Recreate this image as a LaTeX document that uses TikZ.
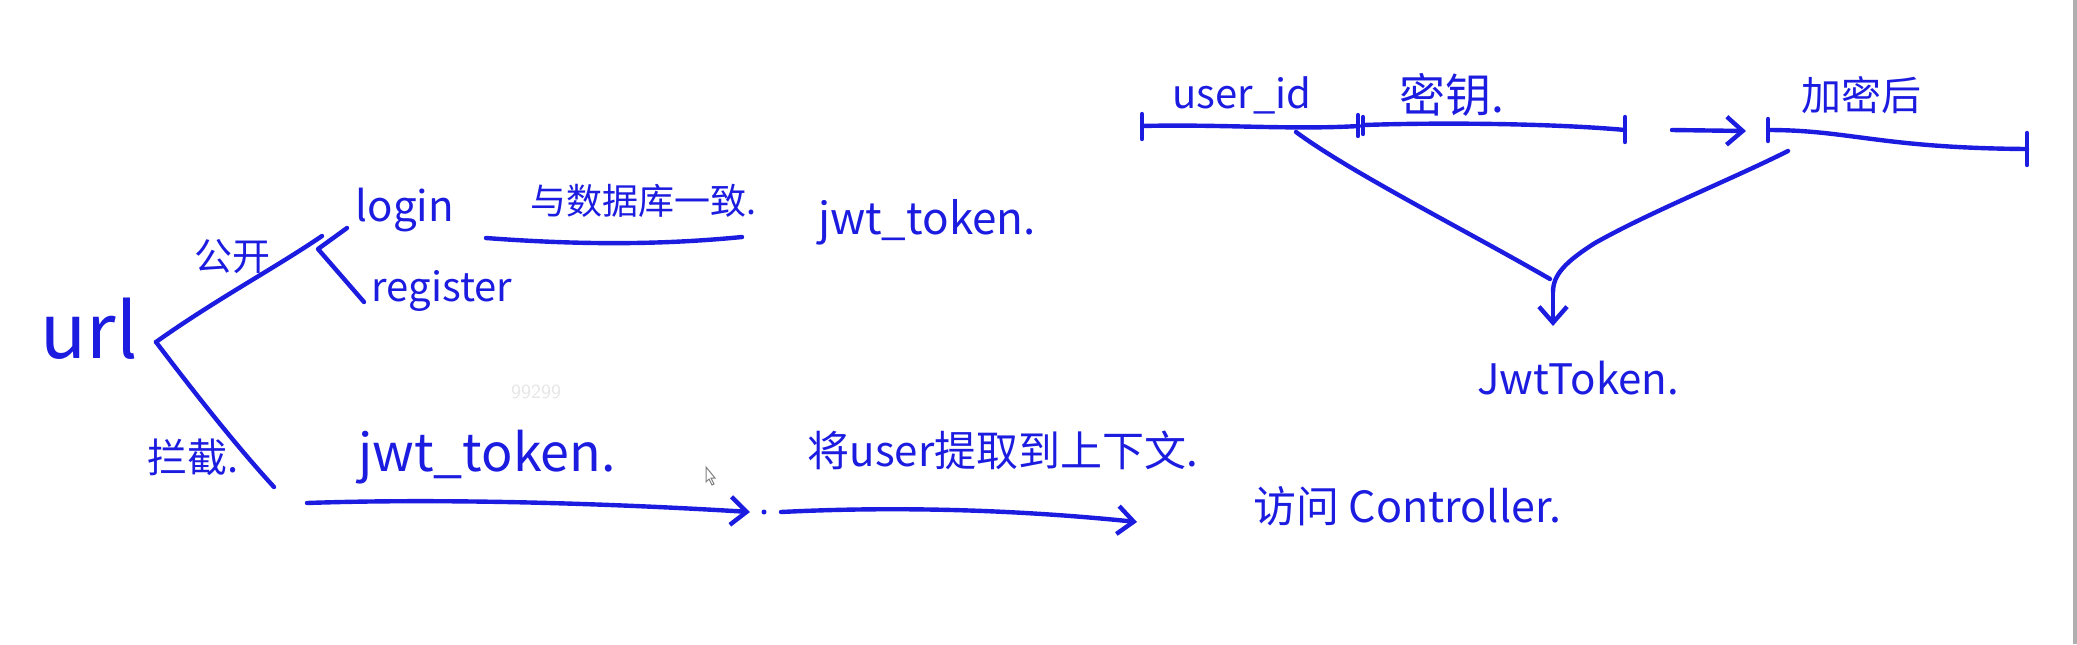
\documentclass[tikz,border=0pt]{standalone}
\usepackage{fontspec}
\newfontfamily\cjk{Noto Sans CJK SC}
\usetikzlibrary{arrows.meta}
\definecolor{ink}{RGB}{28,28,225}
\definecolor{wmark}{RGB}{230,230,230}
\definecolor{edge}{RGB}{175,175,175}
\begin{document}
\begin{tikzpicture}[x=0.5pt,y=-0.5pt,
  inkline/.style={draw=ink, line width=2.2pt, line cap=round, line join=round},
  handarrow/.style={-{Straight Barb[length=8pt,width=14pt,line width=2.2pt]}},
  lbl/.style={text=ink, font=\cjk\fontsize{#1}{#1}\selectfont, inner sep=0pt},
  dotmark/.style={fill=ink, circle, inner sep=0pt, minimum size=2.5pt}]
\useasboundingbox (0,0) rectangle (2077,644);
\fill[white] (0,0) rectangle (2077,644);
\fill[edge] (2073,0) rectangle (2077,644);

% ---- texts ----
\node[lbl=38] (url) at (89,329) {url};
\node[lbl=19] (gk) at (232,257) {公开};
\node[lbl=20] (lj) at (193,457) {拦截.};
\node[lbl=21] (login) at (405,210) {login};
\node[lbl=20] (reg) at (442,291) {register};
\node[lbl=18] (db) at (643,201) {与数据库一致.};
\node[lbl=22] (jwta) at (927,222) {jwt\_token.};
\node[lbl=26] (jwtb) at (487,457) {jwt\_token.};
\node[lbl=21] (ext) at (1003,450) {将user提取到上下文.};
\node[lbl=21.5] (ctrl) at (1407,506) {访问 Controller.};
\node[lbl=20] (uid) at (1242,95) {user\_id};
\node[lbl=23] (key) at (1452,95) {密钥.};
\node[lbl=20] (enc) at (1861,95) {加密后};
\node[lbl=21] (jt) at (1578,378) {JwtToken.};
\node[text=wmark, font=\sffamily\fontsize{10}{10}\selectfont, inner sep=0pt] (wm) at (536,392) {99299};

% ---- left tree ----
\coordinate (br) at (156,342);
\coordinate (up) at (322,236);
\coordinate (dn) at (274,487);
\draw[inkline] (br) .. controls (215,300) and (275,268) .. (up);
\draw[inkline] (br) .. controls (200,400) and (240,450) .. (dn);
\coordinate (bv) at (318,249);
\coordinate (bu) at (347,228);
\coordinate (bl) at (364,302);
\draw[inkline] (bu) -- (bv) -- (bl);

% underline
\coordinate (ula) at (486,238);
\coordinate (ulb) at (742,237);
\draw[inkline] (ula) .. controls (580,245) and (660,245) .. (ulb);

% lower arrows
\coordinate (a1s) at (307,503);
\coordinate (a1e) at (750,512);
\draw[inkline, handarrow] (a1s) .. controls (450,498) and (620,504) .. (a1e);
\node[dotmark] (d1) at (764,512) {};
\coordinate (a2s) at (781,512);
\coordinate (a2e) at (1137,522);
\draw[inkline, handarrow] (a2s) .. controls (900,506) and (1020,510) .. (a2e);

% cursor
\draw[draw=gray, fill=white, line width=0.5pt] (706,467) -- (706,482) -- (709,479) -- (712,485) -- (714,484) -- (711,478) -- (715,478) -- cycle;

% ---- right part ----
\coordinate (s1) at (1142,126);
\coordinate (s2) at (1359,126);
\coordinate (s2b) at (1364,125);
\coordinate (s3) at (1625,130);
\draw[inkline] (s1) .. controls (1220,124) and (1290,130) .. (s2);
\draw[inkline] (s2b) .. controls (1450,122) and (1560,124) .. (s3);
\draw[inkline] (1142,114) -- (1142,139);
\draw[inkline] (1358,115) -- (1358,136);
\draw[inkline] (1363,117) -- (1363,134);
\draw[inkline] (1625,117) -- (1625,142);

\coordinate (ar1) at (1672,130);
\coordinate (ar2) at (1746,131);
\draw[inkline, handarrow] (ar1) -- (ar2);

\coordinate (t1) at (1768,130);
\coordinate (t2) at (2027,149);
\draw[inkline] (t1) .. controls (1850,130) and (1880,148) .. (t2);
\draw[inkline] (1768,119) -- (1768,141);
\draw[inkline] (2027,133) -- (2027,165);

\coordinate (vl) at (1296,132);
\coordinate (vb) at (1550,279);
\coordinate (vr) at (1788,151);
\coordinate (vk) at (1595,243);
\coordinate (vm) at (1553,292);
\coordinate (vt) at (1553,326);
\draw[inkline] (vl) .. controls (1350,172) and (1465,230) .. (vb);
\draw[inkline] (vr) .. controls (1730,180) and (1650,212) .. (vk) .. controls (1565,262) and (1553,275) .. (vm);
\draw[inkline, handarrow] (vm) -- (vt);
\end{tikzpicture}
\end{document}
